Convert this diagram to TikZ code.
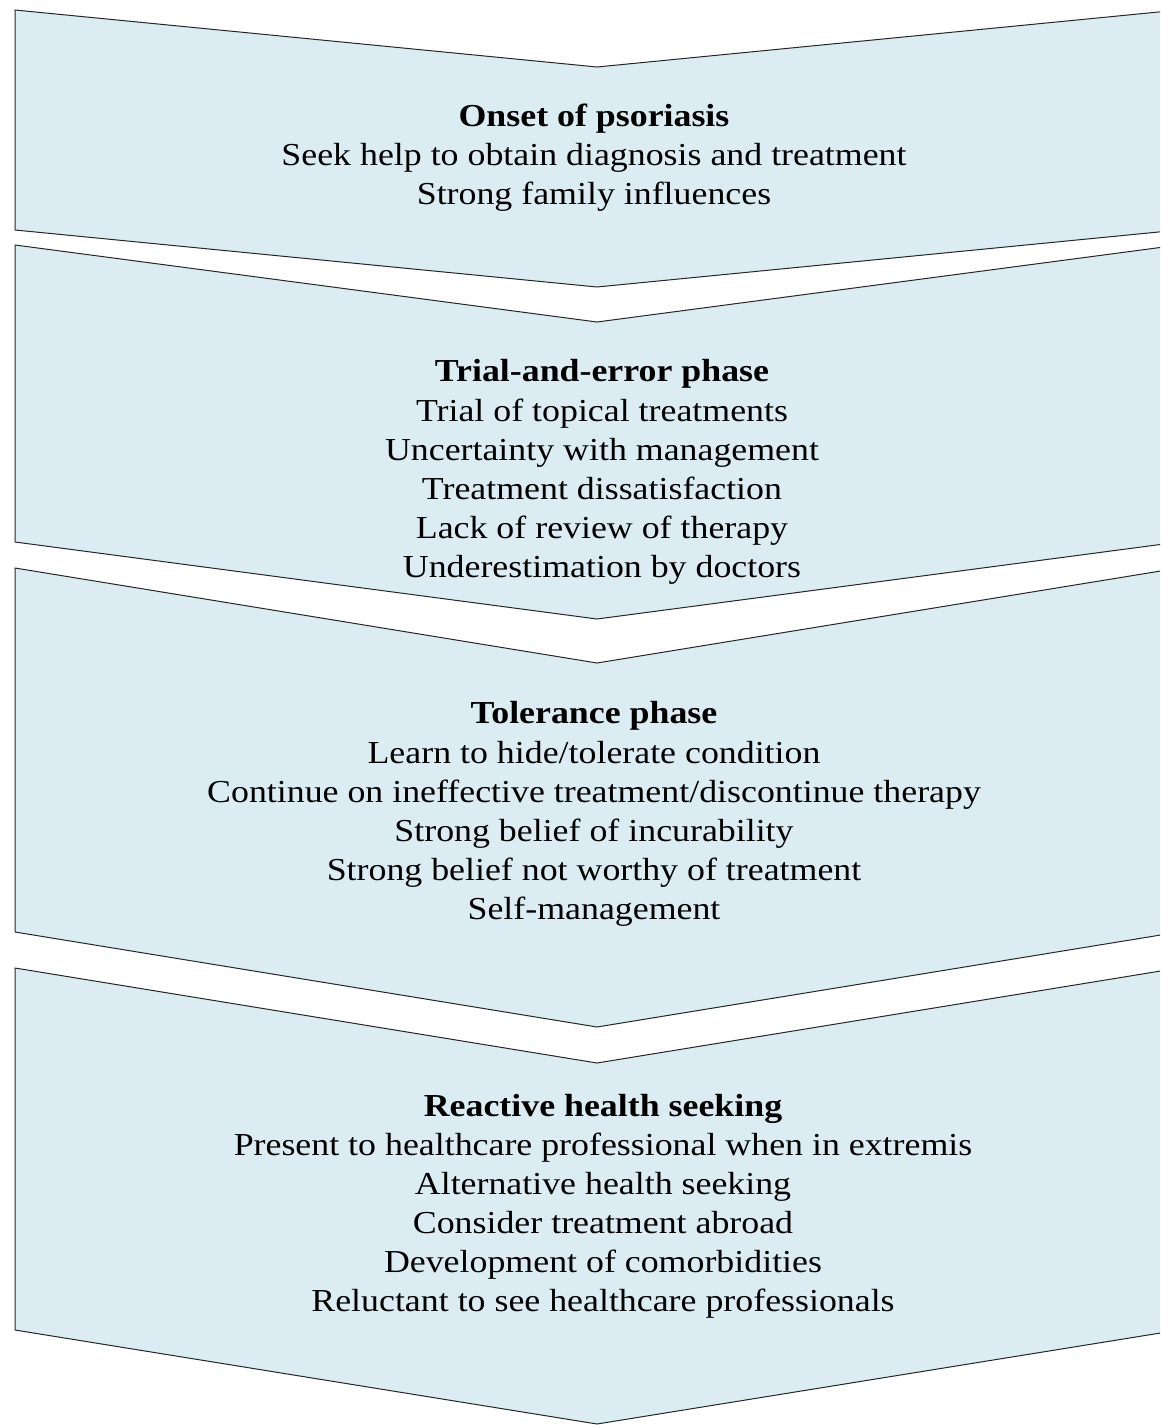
\documentclass[tikz,border=0pt]{standalone}
\usepackage{fontspec}
\setmainfont{Liberation Serif}[FakeStretch=1.12]
\definecolor{chevfill}{RGB}{219,237,243}
\begin{document}
\begin{tikzpicture}[x=1pt,y=-1pt,
  chev/.style={fill=chevfill,draw=black!85,line width=1pt,line join=miter},
  lbl/.style={align=center,inner sep=0pt,font=\fontsize{32}{39.1}\selectfont}]
\useasboundingbox (0,0) rectangle (1160,1425);
\clip (0,0) rectangle (1160,1425);
% chevrons
\draw[chev] (15,10) -- (597,67) -- (1179,10) -- (1179,230) -- (597,287) -- (15,230) -- cycle;
\draw[chev] (15,245) -- (597,322) -- (1179,245) -- (1179,542) -- (597,619) -- (15,542) -- cycle;
\draw[chev] (15,568) -- (597,663) -- (1179,568) -- (1179,932) -- (597,1027) -- (15,932) -- cycle;
\draw[chev] (15,968) -- (597,1063) -- (1179,968) -- (1179,1330) -- (597,1424) -- (15,1330) -- cycle;
% texts
\node[lbl] (t1) at (594,158) {\textbf{Onset of psoriasis}\\Seek help to obtain diagnosis and treatment\\Strong family influences};
\node[lbl] (t2) at (602,472) {\textbf{Trial-and-error phase}\\Trial of topical treatments\\Uncertainty with management\\Treatment dissatisfaction\\Lack of review of therapy\\Underestimation by doctors};
\node[lbl] (t3) at (594,814) {\textbf{Tolerance phase}\\Learn to hide/tolerate condition\\Continue on ineffective treatment/discontinue therapy\\Strong belief of incurability\\Strong belief not worthy of treatment\\Self-management};
\node[lbl] (t4) at (603,1206.5) {\textbf{Reactive health seeking}\\Present to healthcare professional when in extremis\\Alternative health seeking\\Consider treatment abroad\\Development of comorbidities\\Reluctant to see healthcare professionals};
\end{tikzpicture}
\end{document}
